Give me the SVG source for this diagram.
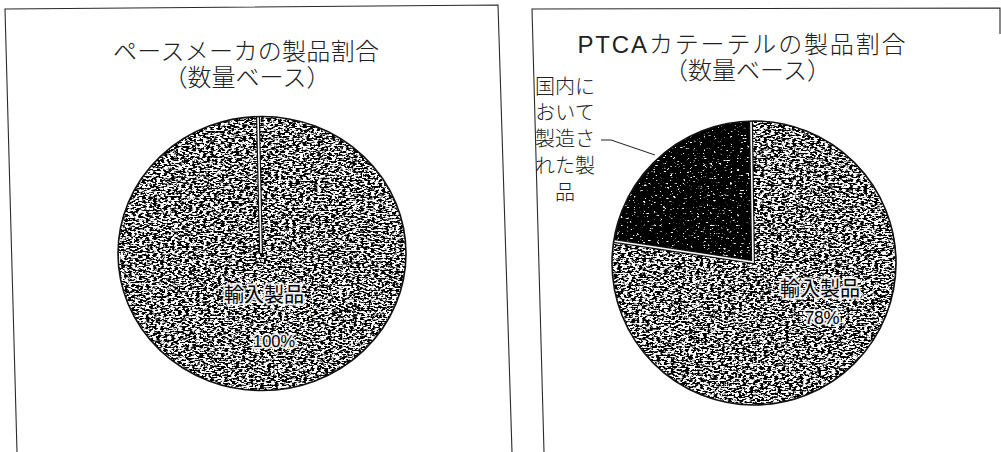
<svg xmlns="http://www.w3.org/2000/svg" width="1001" height="452" viewBox="0 0 1001 452">
  <style>
    .frame { fill: none; stroke: #2a2a2a; stroke-width: 1.1; }
    .title { font-family: "Liberation Sans", "Noto Sans CJK JP", sans-serif; font-size: 24px; font-weight: 300; fill: #222; text-anchor: middle; }
    .lbl { font-family: "Liberation Sans", "Noto Sans CJK JP", sans-serif; font-size: 20px; font-weight: 300; fill: #222; text-anchor: middle; }
    .inlbl { font-family: "Liberation Sans", "Noto Sans CJK JP", sans-serif; fill: #000; text-anchor: middle; stroke: #fff; stroke-opacity: 0.9; stroke-width: 4; stroke-linejoin: round; paint-order: stroke; }
    .outline { fill: none; stroke: #111; stroke-width: 1.6; }
    .sepDark { stroke: #111; stroke-width: 4; stroke-linecap: butt; fill: none; }
    .sepLight { stroke: #fff; stroke-width: 1.6; stroke-linecap: butt; fill: none; }
    .leader { fill: none; stroke: #222; stroke-width: 1; }
  </style>
  <defs>
    <filter id="texLight" filterUnits="userSpaceOnUse" x="0" y="0" width="1001" height="452" color-interpolation-filters="sRGB">
      <feTurbulence type="fractalNoise" baseFrequency="0.28 0.6" numOctaves="3" seed="7" result="noise"/>
      <feColorMatrix in="noise" type="matrix" values="0 0 0 0 0  0 0 0 0 0  0 0 0 0 0  0 9 0 0 -4.0" result="dots"/>
      <feComposite in="dots" in2="SourceAlpha" operator="in" result="clip"/>
      <feMerge><feMergeNode in="SourceGraphic"/><feMergeNode in="clip"/></feMerge>
    </filter>
    <filter id="texDark" filterUnits="userSpaceOnUse" x="0" y="0" width="1001" height="452" color-interpolation-filters="sRGB">
      <feTurbulence type="fractalNoise" baseFrequency="0.3 0.6" numOctaves="3" seed="11" result="noise"/>
      <feColorMatrix in="noise" type="matrix" values="0 0 0 0 0  0 0 0 0 0  0 0 0 0 0  0 9 0 0 -2.1" result="dots"/>
      <feComposite in="dots" in2="SourceAlpha" operator="in" result="clip"/>
      <feMerge><feMergeNode in="SourceGraphic"/><feMergeNode in="clip"/></feMerge>
    </filter>
  </defs>

  <rect x="0" y="0" width="1001" height="452" fill="#fff"/>

  <g id="panel-pacemaker">
    <path class="frame" d="M17,452 L5,9 L498,5 L512,452"/>
    <text class="title" x="246" y="60" textLength="266" lengthAdjust="spacing">ペースメーカの製品割合</text>
    <text class="title" x="247" y="86">（数量ベース）</text>
    <g id="pie-pacemaker">
      <ellipse cx="262" cy="253.5" rx="144" ry="137" fill="#ffffff" filter="url(#texLight)"/>
      <line class="sepDark" x1="261" y1="253" x2="258" y2="117"/>
      <line class="sepLight" x1="261" y1="253" x2="258" y2="117"/>
      <ellipse class="outline" cx="262" cy="253.5" rx="144" ry="137"/>
      <text class="inlbl" x="264" y="302" font-size="20">輸入製品</text>
      <text class="inlbl" x="274" y="347" font-size="17" textLength="42" lengthAdjust="spacingAndGlyphs">100%</text>
    </g>
  </g>

  <g id="panel-ptca">
    <path class="frame" d="M544,452 L532,9 L1000,8 L1000,34"/>
    <text class="title" x="741.5" y="53" font-size="25" textLength="328" lengthAdjust="spacing">PTCAカテーテルの製品割合</text>
    <text class="title" x="747.5" y="79">（数量ベース）</text>
    <g id="pie-ptca">
      <path id="slice-imported" d="M753,262 L751,121 A142,142 0 1 1 614,241 Z" fill="#ffffff" filter="url(#texLight)"/>
      <path id="slice-domestic" d="M753,262 L614,241 A142,142 0 0 1 751,121 Z" fill="#ffffff" filter="url(#texDark)"/>
      <path class="sepDark" d="M751,121 L753,262 L614,241"/>
      <path class="sepLight" d="M751,121 L753,262 L614,241"/>
      <circle class="outline" cx="754" cy="263" r="142"/>
      <text class="inlbl" x="820" y="296" font-size="20" textLength="80" lengthAdjust="spacing">輸入製品</text>
      <text class="inlbl" x="822" y="324" font-size="18" textLength="35" lengthAdjust="spacing">78%</text>
    </g>
    <g id="label-domestic">
      <text class="lbl" x="565" y="94">国内に</text>
      <text class="lbl" x="565" y="120">おいて</text>
      <text class="lbl" x="565" y="146">製造さ</text>
      <text class="lbl" x="565" y="173">れた製</text>
      <text class="lbl" x="565" y="200">品</text>
    </g>
  </g>

  <g id="connectors">
    <path class="leader" d="M601,140 L611,140 L655,155"/>
  </g>
</svg>
